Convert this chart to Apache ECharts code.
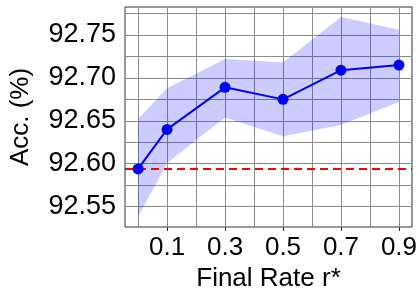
<!DOCTYPE html>
<html>
<head>
<meta charset="utf-8">
<script src="https://cdn.jsdelivr.net/npm/echarts@6/dist/echarts.min.js"></script>
<style>html,body{margin:0;padding:0;background:#fff}#c{width:420px;height:300px}</style>
</head>
<body>
<div id="c"></div>
<script>
// data
var rates = [0, 0.1, 0.3, 0.5, 0.7, 0.9];
var accMean = [92.594, 92.640, 92.689, 92.675, 92.709, 92.715];
var accUpper = [92.652, 92.688, 92.722, 92.718, 92.771, 92.756];
var accLower = [92.538, 92.601, 92.654, 92.632, 92.645, 92.672];
var baseline = 92.594;
var xTickLabels = [0.1, 0.3, 0.5, 0.7, 0.9];
var yTickLabels = [92.55, 92.60, 92.65, 92.70, 92.75];
var xGridValues = [0, 0.1, 0.2, 0.3, 0.4, 0.5, 0.6, 0.7, 0.8, 0.9];
var yGridValues = [92.55, 92.575, 92.60, 92.625, 92.65, 92.675, 92.70, 92.725, 92.75, 92.775];

var FONT = 'Liberation Sans, Arial, Helvetica, sans-serif';
var chart = echarts.init(document.getElementById('c'), null, {renderer: 'canvas'});

var bandData = rates.map(function (x, i) { return [x, accLower[i], accUpper[i]]; });
var meanData = rates.map(function (x, i) { return [x, accMean[i]]; });

var gridLines = xGridValues.map(function (v) { return {xAxis: v}; })
  .concat(yGridValues.map(function (v) { return {yAxis: v}; }));

function renderBand(params, api) {
  if (params.dataIndex !== 0) return null;
  var pts = [];
  var i;
  for (i = 0; i < bandData.length; i++) pts.push(api.coord([bandData[i][0], bandData[i][2]]));
  for (i = bandData.length - 1; i >= 0; i--) pts.push(api.coord([bandData[i][0], bandData[i][1]]));
  return {
    type: 'polygon',
    shape: {points: pts},
    style: {fill: 'rgba(0,0,255,0.2)', stroke: 'none'},
    silent: true
  };
}

chart.setOption({
  animation: false,
  grid: {left: 115, right: 8, top: 7, bottom: 73, show: true, borderColor: '#333', borderWidth: 1, backgroundColor: 'transparent'},
  xAxis: {
    type: 'value', min: -0.045, max: 0.945,
    name: 'Final Rate r*', nameLocation: 'middle', nameGap: 37,
    nameTextStyle: {fontFamily: FONT, fontSize: 26, color: '#000'},
    axisLine: {show: false},
    axisTick: {show: true, customValues: xTickLabels, length: 4, lineStyle: {color: '#333'}},
    axisLabel: {customValues: xTickLabels, fontFamily: FONT, fontSize: 26, color: '#000', margin: 8,
      formatter: function (v) { return String(v); }},
    splitLine: {show: false}
  },
  yAxis: {
    type: 'value', min: 92.5263, max: 92.7826,
    name: 'Acc. (%)', nameLocation: 'middle', nameGap: 91, nameRotate: 90,
    nameTextStyle: {fontFamily: FONT, fontSize: 26, color: '#000'},
    axisLine: {show: false},
    axisTick: {show: true, customValues: yTickLabels, length: 4, lineStyle: {color: '#333'}},
    axisLabel: {customValues: yTickLabels, fontFamily: FONT, fontSize: 27, color: '#000', margin: 9,
      formatter: function (v) { return v.toFixed(2); }},
    splitLine: {show: false}
  },
  series: [
    {
      type: 'custom', data: bandData, renderItem: renderBand, silent: true, z: 2,
      encode: {x: 0, y: [1, 2]},
      markLine: {silent: true, symbol: ['none', 'none'], label: {show: false}, precision: 4,
        lineStyle: {color: '#8c8c8c', width: 1, type: 'solid'}, emphasis: {disabled: true},
        data: gridLines, animation: false, z: 1}
    },
    {
      type: 'line', data: meanData, z: 5, symbol: 'circle', symbolSize: 11,
      lineStyle: {color: '#0000ff', width: 2}, itemStyle: {color: '#0000ff'},
      emphasis: {disabled: true},
      markLine: {silent: true, symbol: ['none', 'none'], label: {show: false}, precision: 4,
        lineStyle: {color: '#ff0000', width: 2, type: [8, 5]},
        data: [{yAxis: baseline}], animation: false}
    }
  ]
});
</script>
</body>
</html>
